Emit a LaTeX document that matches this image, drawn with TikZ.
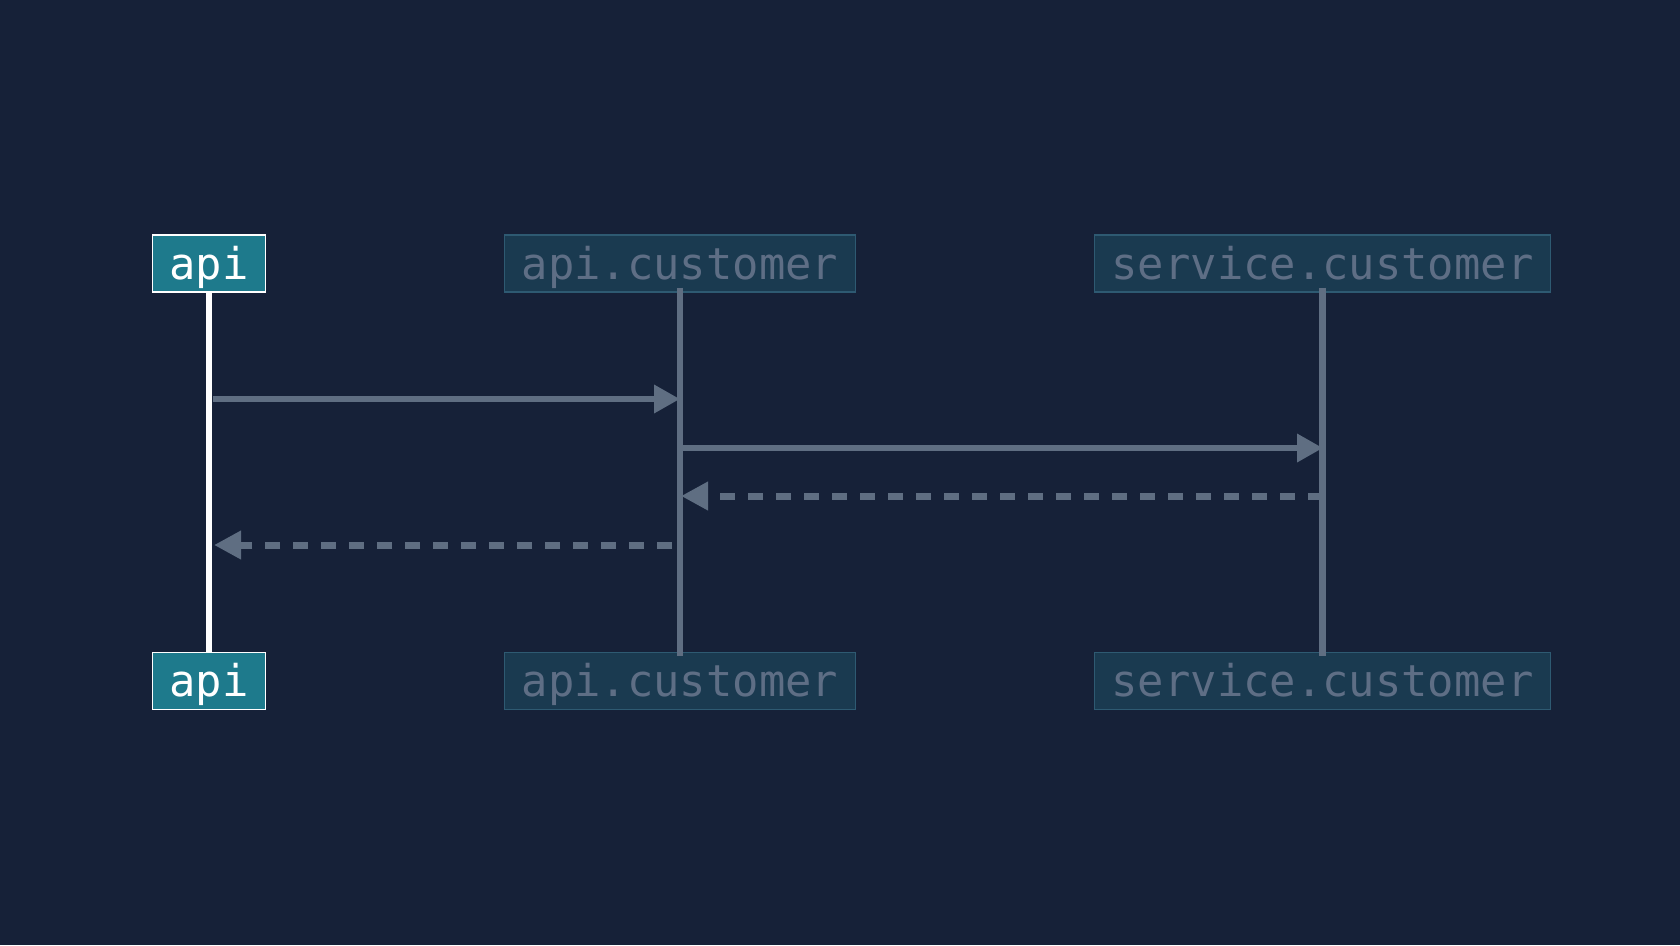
\documentclass[tikz,border=0pt]{standalone}
\usepackage{fontspec}
\newfontfamily\dvmono{DejaVu Sans Mono}
\usetikzlibrary{arrows.meta}
\definecolor{bg}{HTML}{162138}
\definecolor{actfill}{HTML}{1E7A8C}
\definecolor{dimfill}{HTML}{1A3A50}
\definecolor{dimborder}{HTML}{2E5A72}
\definecolor{dimtext}{HTML}{5E6E85}
\definecolor{msg}{HTML}{5F6E82}
\tikzset{
  actbox/.style={draw=white, line width=1.2pt, fill=actfill, text=white, font=\dvmono\fontsize{43.8}{50}\selectfont, minimum height=57pt, inner xsep=17pt, inner ysep=0pt, text height=35pt, text depth=4pt},
  dimbox/.style={draw=dimborder, line width=1.2pt, fill=dimfill, text=dimtext, font=\dvmono\fontsize{43.8}{50}\selectfont, minimum height=57pt, inner xsep=17pt, inner ysep=0pt, text height=35pt, text depth=4pt},
  actline/.style={draw=white, line width=6pt},
  dimline/.style={draw=msg, line width=6.5pt},
  callmsg/.style={draw=msg, line width=6.5pt, -{Triangle[length=26pt,width=27pt]}},
  retmsg/.style={draw=msg, line width=7pt, dash pattern=on 15pt off 13pt, -{Triangle[length=27pt,width=27pt]}}
}
\begin{document}
\begin{tikzpicture}[x=1pt,y=-1pt]
\fill[bg] (0,0) rectangle (1680,945);
\useasboundingbox (0,0) rectangle (1680,945);
% top participants
\node[actbox] (apiT) at (209,263.5) {api};
\node[dimbox] (acT) at (680,263.5) {api.customer};
\node[dimbox] (scT) at (1322.5,263.5) {service.customer};
% bottom participants
\node[actbox] (apiB) at (209,681) {api};
\node[dimbox] (acB) at (680,681) {api.customer};
\node[dimbox] (scB) at (1322.5,681) {service.customer};
% lifelines
\draw[actline] (apiT.south) -- (apiB.north);
\draw[dimline] ([yshift=5pt]acT.south) -- ([yshift=-4pt]acB.north);
\draw[dimline] ([yshift=5pt]scT.south) -- ([yshift=-4pt]scB.north);
% message anchor points
\coordinate (m1s) at (213,399);
\coordinate (m1e) at (680,399);
\coordinate (m2s) at (680,448);
\coordinate (m2e) at (1323,448);
\coordinate (m3s) at (1323,496);
\coordinate (m3e) at (681,496);
\coordinate (m4s) at (672,545);
\coordinate (m4e) at (214,545);
\draw[callmsg] (m1s) -- (m1e);
\draw[callmsg] (m2s) -- (m2e);
\draw[retmsg] (m3s) -- (m3e);
\draw[retmsg] (m4s) -- (m4e);
\end{tikzpicture}
\end{document}
